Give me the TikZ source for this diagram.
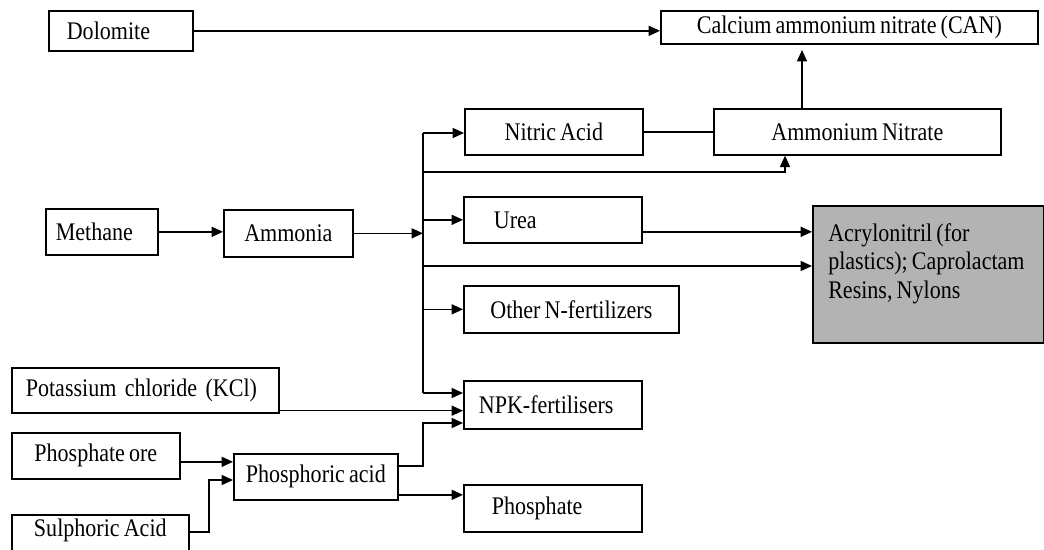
\documentclass[tikz,border=0pt]{standalone}
\usepackage{fontspec}
\setmainfont{Liberation Serif}[FakeStretch=0.87, WordSpace=0.75]
\usetikzlibrary{arrows.meta,calc}
\definecolor{acrgray}{RGB}{179,179,179}
\begin{document}
\begin{tikzpicture}[x=0.75pt,y=-0.75pt,
  txt/.style={font=\fontsize{19}{21.4}\selectfont},
  bx/.style={txt, draw, line width=1.25pt, rectangle, anchor=north west, inner ysep=0pt},
  wh/.style 2 args={minimum width=#1*0.75pt, minimum height=#2*0.75pt},
  ln/.style={line width=1.05pt},
  arr/.style={line width=1.05pt, -{Triangle[length=8.5pt,width=7.5pt]}}]
\useasboundingbox (0,0) rectangle (1044,549);
% boxes
\node[bx, wh={144}{40}, align=left, text width=81pt, inner xsep=13.5pt] (dol) at (48,10) {Dolomite};
\node[bx, wh={377}{33}] (can) at (660,10) {Calcium ammonium nitrate (CAN)};
\node[bx, wh={287}{46}] (an) at (713,108) {Ammonium Nitrate};
\node[bx, wh={178}{46}] (nit) at (464,108) {Nitric Acid};
\node[bx, wh={178}{46}, align=left, text width=88.5pt, inner xsep=22.5pt] (urea) at (463,196) {Urea};
\node[bx, wh={215}{47}] (oth) at (463,285) {Other N-fertilizers};
\node[bx, wh={178}{48}, align=left, text width=111pt, inner xsep=11.25pt] (npk) at (463,380) {NPK-fertilisers};
\node[bx, wh={178}{47}, align=left, text width=91.5pt, inner xsep=21pt] (pho) at (463,484) {Phosphate};
\node[bx, wh={231}{137}, fill=acrgray] (acr) at (812,205) {};
\node[txt, anchor=north west, align=left, inner sep=0pt] (acrt) at (828,223) {Acrylonitril (for\\plastics); Caprolactam\\Resins, Nylons};
\node[bx, wh={112}{46}, align=left, text width=69pt, inner xsep=7.5pt] (meth) at (45,208) {Methane};
\node[bx, wh={129}{47}] (amm) at (223,209) {Ammonia};
\node[bx, wh={267}{45}, align=left, text width=179.25pt, inner xsep=10.5pt] (kcl) at (11,367) {\mbox{Potassium chloride (KCl)}};
\node[bx, wh={168}{46}] (pore) at (11,432) {Phosphate ore};
\node[bx, wh={164}{46}] (pacid) at (233,453) {Phosphoric acid};
\node[bx, minimum width=177*0.75pt, text height=16.5pt, text depth=18pt] (sulph) at (11,514) {Sulphoric Acid};
% junction points
\coordinate (t1) at (423,133);
\coordinate (t2) at (423,393);
\coordinate (t3) at (423,172);
\coordinate (t4) at (423,266);
\coordinate (t5) at (423,423);
\coordinate (s1) at (209,480);
\coordinate (kc) at ($(kcl.south east)+(0,-3)$);
\coordinate (pa1) at ($(pacid.east)+(0,-11)$);
\coordinate (pa2) at ($(pacid.east)+(0,18)$);
\coordinate (po) at ($(pore.east)+(0,6)$);
\coordinate (ue) at ($(urea.east)+(0,12)$);
\coordinate (anb) at ($(an.south west)+(72,0)$);
\coordinate (ant) at ($(an.north west)+(89,0)$);
\coordinate (cantip) at ($(ant)+(0,-58)$);
\coordinate (se) at ($(sulph.north east)+(0,18)$);
% connectors
\draw[arr] (dol.east) -- (dol.east -| can.west);
\draw[arr] (meth.east) -- (meth.east -| amm.west);
\draw[arr] (amm.east) -- (amm.east -| t1);
\draw[ln] (t1) -- (t2);
\draw[arr] (t1) -- (t1 -| nit.west);
\draw[ln] (nit.east) -- (nit.east -| an.west);
\draw[arr] (t3) -| (anb);
\draw[arr] (ant) -- (cantip);
\draw[arr] (urea.west -| t1) -- (urea.west);
\draw[arr] (ue) -- (ue -| acr.west);
\draw[arr] (t4) -- (t4 -| acr.west);
\draw[arr] (oth.west -| t1) -- (oth.west);
\draw[arr] (t2) -- (t2 -| npk.west);
\draw[arr] (kc) -- (kc -| npk.west);
\draw[arr] (pa1) -| (t5) -- (t5 -| npk.west);
\draw[arr] (pa2) -- (pa2 -| pho.west);
\draw[arr] (po) -- (po -| pacid.west);
\draw[arr] (se) -| (s1) -- (s1 -| pacid.west);
\end{tikzpicture}
\end{document}
